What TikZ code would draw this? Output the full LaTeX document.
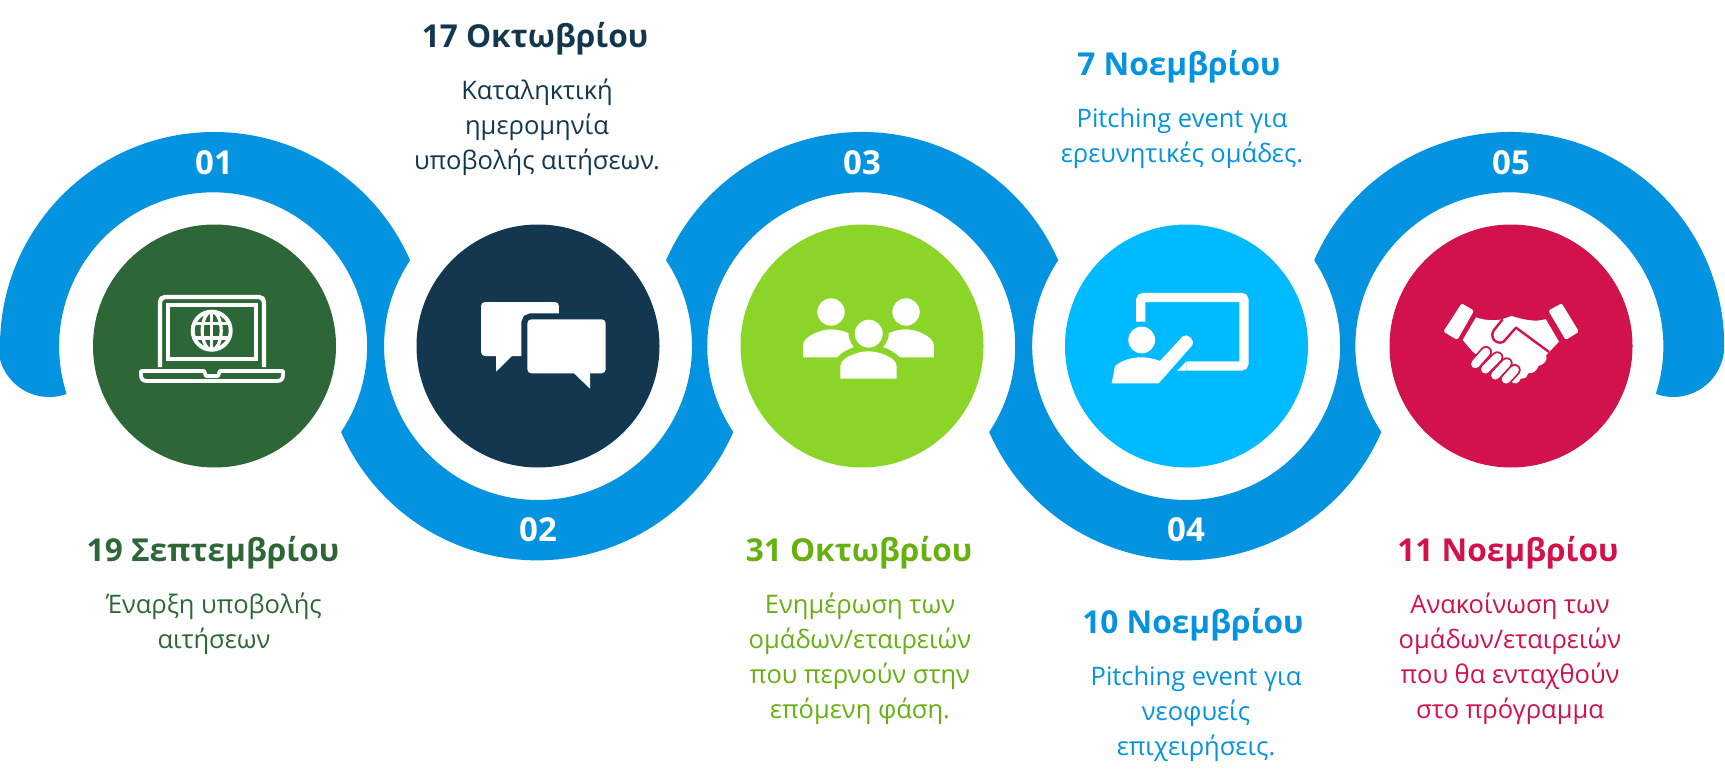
\documentclass[tikz,border=0pt]{standalone}
\usepackage{fontspec}
\setmainfont{Open Sans}
\definecolor{ribbonblue}{HTML}{0393E0}
\definecolor{discgreen}{HTML}{2E6737}
\definecolor{discnavy}{HTML}{12374F}
\definecolor{disclime}{HTML}{8BD428}
\definecolor{textlime}{HTML}{66B010}
\definecolor{disccyan}{HTML}{00BAFF}
\definecolor{discred}{HTML}{D1124D}
\tikzset{
  stepdisc/.style={circle,minimum size=243pt,inner sep=0pt},
  ringnum/.style={text=white,font=\fontsize{33}{33}\selectfont\bfseries,inner sep=0pt},
  datetitle/.style={font=\fontsize{31.6}{32}\selectfont\bfseries,inner sep=0pt,anchor=base},
  datebody/.style={font=\fontsize{25.5}{35}\selectfont,align=center,inner sep=0pt,anchor=north},
}
\begin{document}
\begin{tikzpicture}[x=1pt,y=1pt]
\useasboundingbox (0,0) rectangle (1725,-781);
% ribbon
\fill[ribbonblue] (0,-346) arc[start angle=180,end angle=23.6,radius=214]
    arc[start angle=146.2,end angle=393.8,radius=154]
    arc[start angle=156.4,end angle=23.6,radius=214]
    arc[start angle=146.2,end angle=393.8,radius=154]
    arc[start angle=156.4,end angle=0,radius=214]
    arc[start angle=0,end angle=-110,radius=51]
    arc[start angle=-18,end angle=213.8,radius=154]
    arc[start angle=-23.6,end angle=-156.4,radius=214]
    arc[start angle=-33.8,end angle=213.8,radius=154]
    arc[start angle=-23.6,end angle=-156.4,radius=214]
    arc[start angle=-33.8,end angle=198,radius=154]
    arc[start angle=-70,end angle=-180,radius=51]--cycle;
% discs
\node[stepdisc,fill=discgreen] (discA) at (214.5,-346) {};
\node[stepdisc,fill=discnavy] (discB) at (538,-346) {};
\node[stepdisc,fill=disclime] (discC) at (862,-346) {};
\node[stepdisc,fill=disccyan] (discD) at (1186.5,-346) {};
\node[stepdisc,fill=discred] (discE) at (1511,-346) {};
% numbers
\node[ringnum] (numA) at (214,-163) {01};
\node[ringnum] (numB) at (538,-530) {02};
\node[ringnum] (numC) at (862,-163) {03};
\node[ringnum] (numD) at (1186,-530) {04};
\node[ringnum] (numE) at (1511,-163) {05};
% laptop
\draw[white,line width=4.4pt,rounded corners=5pt] (160,-367)--(160,-297)--(264,-297)--(264,-367);
\draw[white,line width=4.2pt] (168,-305) rectangle (256,-359);
\draw[white,line width=4pt] (211.7,-330.7) circle[radius=19];
\draw[white,line width=3.2pt] (211.7,-330.7) ellipse[x radius=9.5,y radius=19];
\draw[white,line width=3.2pt] (211.7,-311.7)--(211.7,-349.7) (195,-323.5)--(228.4,-323.5) (195,-338)--(228.4,-338);
\draw[white,line width=3.8pt,line join=round] (141,-371)--(204,-371)--(206,-376)--(218,-376)--(220,-371)--(283,-371)
    --(283,-375) .. controls (283,-379) and (281,-381) .. (277,-381)--(147,-381)
    .. controls (143,-381) and (141,-379) .. (141,-375)--cycle;
% chat bubbles
\fill[white,rounded corners=4pt] (481,-302)--(559,-302)--(559,-356)--(481,-356)--cycle;
\fill[white] (496,-350)--(496,-371.7)--(512,-356)--(512,-350)--cycle;
\draw[discnavy,line width=12pt,rounded corners=4pt] (527.3,-319.3) rectangle (605.7,-373.3);
\fill[discnavy] (559,-300) rectangle (565,-313);
\fill[white,rounded corners=4pt] (527.3,-319.3) rectangle (605.7,-373.3);
\fill[white] (574,-368)--(574,-373.3)--(590,-388.7)--(590,-368)--cycle;
% group
\fill[white] (831,-312) circle[radius=13.7] (906,-312) circle[radius=13.7] (868.7,-333.7) circle[radius=14];
\fill[white] (803,-357.3)--(803,-345) .. controls (803,-337) and (820,-329.3) .. (831,-329.3)
    .. controls (837,-329.3) and (843,-331) .. (848.4,-333)
    .. controls (848.4,-339) and (851,-344) .. (853.9,-347)
    .. controls (848,-349) and (841,-353) .. (837,-357.3)--cycle;
\fill[white] (933.8,-357.3)--(933.8,-345) .. controls (933.8,-337) and (917,-329.3) .. (906,-329.3)
    .. controls (900,-329.3) and (894,-331) .. (889,-333)
    .. controls (889,-339) and (886,-344) .. (883,-347)
    .. controls (889,-349) and (896,-353) .. (900,-357.3)--cycle;
\fill[white] (840.4,-378.7)--(840.4,-366) .. controls (840.4,-358) and (857,-351.3) .. (868.5,-351.3)
    .. controls (880,-351.3) and (896.6,-358) .. (896.6,-366)--(896.6,-378.7)--cycle;
% teacher
\draw[white,line width=9.3pt,rounded corners=3pt] (1140.7,-321.7)--(1140.7,-297.4)--(1244,-297.4)--(1244,-366)--(1186.7,-366);
\fill[white] (1186.7,-361.3)--(1186.7,-370.7)--(1177,-370.7)--cycle;
\fill[white] (1141.7,-340) circle[radius=13.4];
\fill[white] (1111.7,-383.3)--(1115,-366) .. controls (1122,-360) and (1132,-357.3) .. (1141.7,-357.3)
    .. controls (1148,-357.3) and (1155,-359) .. (1160,-361)
    --(1182.7,-336.3) .. controls (1187,-332.5) and (1196,-340) .. (1192,-345.6)--(1158.7,-383.3)--cycle;
% handshake
\begin{scope}[shift={(1400,-280)},x=0.3333pt,y=-0.3333pt]
\fill[white,rounded corners=1.5pt] (185,70)--(222,92)--(172,180)--(130,155)--cycle;
\fill[white,rounded corners=1.5pt] (485,70)--(445,92)--(497,180)--(537,155)--cycle;
\fill[white] (228,112) .. controls (255,122) and (285,122) .. (305,118)--(335,108)
    .. controls (365,118) and (410,128) .. (437,117)--(477,185)--(438,226)
    .. controls (446,240) and (430,255) .. (415,258)
    .. controls (412,272) and (400,280) .. (385,280)
    .. controls (380,295) and (370,298) .. (362,296)
    .. controls (358,312) and (340,314) .. (335,305)--(218,215)--(188,180)--cycle;
\foreach \ax/\ay/\bx/\by in {226/252/258/216,256/268/292/232,286/286/320/250,318/298/344/270}{
  \draw[discred,line width=12pt,line cap=round] (\ax,\ay)--(\bx,\by);
  \draw[white,line width=8.5pt,line cap=round] (\ax,\ay)--(\bx,\by);
}
\draw[discred,line width=2.4pt,line join=round] (308,118)--(282,150)
    .. controls (268,170) and (285,195) .. (310,186)--(348,143)--(447,216);
\end{scope}
% dates
\node[datetitle,text=discgreen] (titleA) at (213,-561) {19 Σεπτεμβρίου};
\node[datebody,text=discgreen] (bodyA) at (214,-593) {Έναρξη υποβολής\\αιτήσεων};
\node[datetitle,text=discnavy] (titleB) at (535,-48) {17 Οκτωβρίου};
\node[datebody,text=discnavy] (bodyB) at (537,-79) {Καταληκτική\\ημερομηνία\\υποβολής αιτήσεων.};
\node[datetitle,text=textlime] (titleC) at (859,-561) {31 Οκτωβρίου};
\node[datebody,text=textlime] (bodyC) at (860,-593) {Ενημέρωση των\\ομάδων/εταιρειών\\που περνούν στην\\επόμενη φάση.};
\node[datetitle,text=ribbonblue] (titleD) at (1179,-76) {7 Νοεμβρίου};
\node[datebody,text=ribbonblue] (bodyD) at (1182,-108) {Pitching event για\\ερευνητικές ομάδες.};
\node[datetitle,text=ribbonblue] (titleF) at (1193,-633) {10 Νοεμβρίου};
\node[datebody,text=ribbonblue] (bodyF) at (1196,-666) {Pitching event για\\νεοφυείς\\επιχειρήσεις.};
\node[datetitle,text=discred] (titleE) at (1508,-561) {11 Νοεμβρίου};
\node[datebody,text=discred] (bodyE) at (1510,-593) {Ανακοίνωση των\\ομάδων/εταιρειών\\που θα ενταχθούν\\στο πρόγραμμα};
\end{tikzpicture}
\end{document}
